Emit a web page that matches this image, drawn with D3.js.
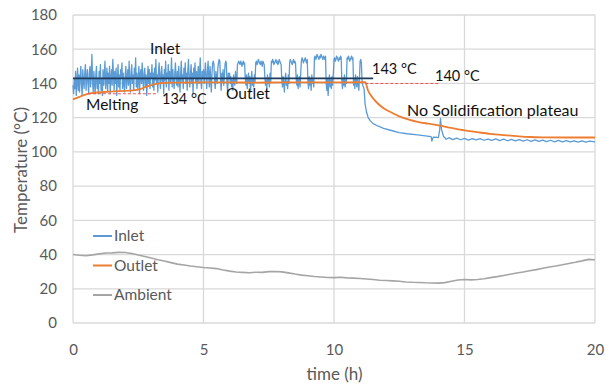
<!DOCTYPE html>
<html>
<head>
<meta charset="utf-8">
<script src="https://cdn.jsdelivr.net/npm/d3@7"></script>
<style>
  html, body { margin: 0; padding: 0; background: #fff; }
  svg { display: block; }
  text { font-family: Lato, "Liberation Sans", sans-serif; }
</style>
</head>
<body>
<svg id="chart" width="606" height="390"></svg>
<script>
// ---- data -------------------------------------------------------------
// Inlet temperature while charging, logged every 0.025 h from t = 0 (one row per hour)
const inletLogStep = 0.025;
const inletCharging = [
  139,134,143,137,147,133,141,149,136,145,135,144,150,139,133,148,142,137,146,151,
  136,143,148,140,134,146,150,138,145,157,141,135,147,140,134,145,150,137,143,134,

  147,140,151,136,143,133,148,139,145,153,137,142,149,135,146,140,150,134,143,148,
  139,154,145,136,147,140,149,133,142,151,138,145,136,148,143,152,137,146,140,135,

  145,150,137,143,148,139,153,142,135,146,151,140,145,136,149,143,155,138,146,137,
  142,150,134,145,148,140,152,143,136,146,149,138,145,133,142,150,140,148,137,146,

  143,151,138,146,136,149,142,154,140,145,135,147,152,143,137,146,150,140,145,134,
  148,142,153,138,146,143,151,136,147,140,145,155,138,148,142,137,146,152,143,139,

  147,138,150,143,135,146,153,141,145,137,149,143,152,140,146,136,148,154,143,138,
  145,151,140,146,134,149,143,152,141,147,137,145,150,140,146,155,141,137,147,143,

  148,140,146,152,143,137,147,153,144,138,150,143,135,146,152,153,151,141,137,147,
  144,140,149,152,154,153,143,136,146,141,148,139,144,151,153,152,140,135,146,143,

  146,140,144,138,142,136,145,141,139,147,143,140,151,152,153,152,151,153,152,150,
  152,153,151,152,143,139,145,137,142,146,140,144,135,141,147,139,143,138,145,141,

  152,153,151,152,154,153,152,151,153,152,150,153,152,151,144,139,142,136,145,140,
  143,138,146,141,153,152,154,153,151,152,153,154,152,153,151,152,154,153,152,151,

  142,138,144,140,135,143,146,139,141,137,145,140,152,154,153,152,151,153,154,152,
  153,152,143,139,145,137,141,144,138,146,153,155,154,152,153,154,155,153,152,154,

  141,137,144,139,143,136,145,140,142,138,155,156,154,155,157,156,155,154,156,155,
  157,156,155,154,156,155,154,156,140,136,143,133,141,145,138,142,137,144,139,146,

  154,155,153,154,156,155,154,153,155,154,156,155,141,137,143,139,145,138,142,140,
  155,154,156,155,153,154,155,156,154,155,139,143,137,145,141,138,144,140,136,142,

  153,154,152,141,139,138,137
];
// Inlet after the heater is switched off: [time (h), °C]
const inletCooling = [
  [11.17,133],[11.19,128],[11.25,123],[11.31,120],[11.4,118],[11.5,116.5],[11.7,115],
  [11.9,113.8],[12.2,112.5],[12.5,111.3],[12.8,110.6],[13.2,109.9],[13.5,109.3],
  [13.72,108.9],[13.75,106.3],[13.8,108.6],[14.0,108.4],[14.05,113],[14.08,119.5],
  [14.12,113],[14.2,109],[14.3,107.4],[14.4,108.3],[14.55,107.2],[14.7,108.0],
  [14.85,107.1],[15.0,107.9],[15.15,106.9],[15.3,107.7],[15.45,107.0],[15.6,107.8],
  [15.75,106.8],[15.9,107.5],[16.05,106.7],[16.2,107.6],[16.35,106.6],[16.5,107.4],
  [16.65,106.5],[16.8,107.3],[16.95,106.4],[17.1,107.2],[17.25,106.3],[17.4,107.1],
  [17.55,106.2],[17.7,107.0],[17.85,106.1],[18.0,106.9],[18.15,106.0],[18.3,106.8],
  [18.45,105.9],[18.6,106.7],[18.75,105.9],[18.9,106.6],[19.05,105.8],[19.2,106.5],
  [19.35,105.7],[19.5,106.4],[19.65,105.7],[19.8,106.3],[20.0,105.8]
];
const outlet = [
  [0,130.7],[0.3,132.5],[0.65,134.2],[1.2,135],[1.8,135.5],[2.3,135.9],[2.6,136.8],
  [2.8,138],[3.0,139],[3.3,140],[3.6,140.4],[4,140.5],[5,140.6],[6,140.6],[7,140.5],
  [8,140.6],[9,140.6],[10,140.6],[11,140.7],[11.2,140.7],[11.3,136],[11.5,131.3],
  [11.7,128],[11.9,125.5],[12.2,123],[12.5,120.8],[12.9,118.7],[13.2,117.6],
  [13.6,116.5],[14.0,115.5],[14.5,114],[15,112.6],[15.5,111.5],[16,110.5],
  [16.5,109.8],[17,109.2],[17.5,108.7],[18,108.5],[19,108.4],[20,108.4]
];
// Ambient temperature, every 0.25 h
const ambientLogStep = 0.25;
const ambient = [
  40.0,39.6,39.3,39.8,40.4,40.9,41.0,41.3,41.2,40.6,39.7,38.9,38.0,37.0,36.2,35.3,
  34.4,33.9,33.3,32.9,32.4,32.1,31.8,31.0,30.3,29.8,29.6,29.4,29.7,29.6,30.0,30.1,
  29.9,29.3,28.6,28.0,27.6,27.2,26.9,26.6,26.5,26.7,26.4,26.2,26.0,25.7,25.4,25.0,
  24.8,24.6,24.4,24.0,23.8,23.7,23.5,23.4,23.3,23.6,24.4,25.1,25.4,25.2,25.4,25.9,
  26.5,27.1,27.8,28.5,29.2,29.8,30.5,31.2,32.0,32.7,33.3,34.0,34.8,35.5,36.3,37.2,37.0
];
// Reference levels marked on the chart
const meltingLevel = { value: 134, from: 0.57, to: 3.26 };
const plateauLevel = { value: 140, from: 11.2, to: 14.05 };
const inletMeanLevel = { value: 143, from: 0, to: 11.5 };

const xTicks = [0, 5, 10, 15, 20];
const yTicks = [0, 20, 40, 60, 80, 100, 120, 140, 160, 180];

const seriesNames = ["Inlet", "Outlet", "Ambient"];
const seriesColors = ["#5B9BD5", "#ED7D31", "#A5A5A5"];

// ---- layout -----------------------------------------------------------
const svg = d3.select("#chart");
const plot = { left: 73, right: 595, top: 15, bottom: 323 };

const x = d3.scaleLinear().domain([0, 20]).range([plot.left, plot.right]);
const y = d3.scaleLinear().domain([0, 180]).range([plot.bottom, plot.top]);

// grid
const grid = svg.append("g").attr("stroke", "#D9D9D9").attr("stroke-width", 1.3);
grid.selectAll("line.h").data(yTicks).join("line")
  .attr("x1", plot.left).attr("x2", plot.right)
  .attr("y1", d => y(d)).attr("y2", d => y(d));
grid.selectAll("line.v").data(xTicks).join("line")
  .attr("y1", plot.top).attr("y2", plot.bottom)
  .attr("x1", d => x(d)).attr("x2", d => x(d));

// axes (labels only, lines come from the grid)
const yAxis = svg.append("g")
  .attr("transform", `translate(${plot.left - 16},0)`)
  .call(d3.axisLeft(y).tickValues(yTicks).tickSize(0).tickPadding(0));
const xAxis = svg.append("g")
  .attr("transform", `translate(0,${plot.bottom + 32})`)
  .call(d3.axisBottom(x).tickValues(xTicks).tickSize(0).tickPadding(0));
[yAxis, xAxis].forEach(a => {
  a.select(".domain").remove();
  a.selectAll("text")
    .attr("fill", "#595959")
    .style("font-size", "15px")
    .style("font-family", "Lato, 'Liberation Sans', sans-serif");
});
xAxis.selectAll("text").attr("y", 0).attr("dy", "0");

svg.append("text")
  .attr("x", (plot.left + plot.right) / 2 + 0.5).attr("y", 380)
  .attr("text-anchor", "middle").attr("fill", "#595959")
  .style("font-size", "17px").text("time (h)");
svg.append("text")
  .attr("transform", `translate(27,170) rotate(-90)`)
  .attr("text-anchor", "middle").attr("fill", "#595959")
  .style("font-size", "17px").text("Temperature (°C)");

// ---- series -----------------------------------------------------------
const line = d3.line().x(d => x(d[0])).y(d => y(d[1]));

const inletPoints = inletCharging.map((v, i) => [i * inletLogStep, v]).concat(inletCooling);
const ambientPoints = ambient.map((v, i) => [i * ambientLogStep, v]);

svg.append("path").datum(ambientPoints)
  .attr("d", line).attr("fill", "none")
  .attr("stroke", seriesColors[2]).attr("stroke-width", 1.6);

svg.append("path").datum(inletPoints)
  .attr("d", line).attr("fill", "none")
  .attr("stroke", seriesColors[0]).attr("stroke-width", 1.3)
  .attr("stroke-linejoin", "round");

svg.append("path").datum(outlet)
  .attr("d", d3.line().curve(d3.curveMonotoneX).x(d => x(d[0])).y(d => y(d[1])))
  .attr("fill", "none")
  .attr("stroke", seriesColors[1]).attr("stroke-width", 1.8);

// reference lines
[meltingLevel, plateauLevel].forEach(r => {
  svg.append("line")
    .attr("x1", x(r.from)).attr("x2", x(r.to))
    .attr("y1", y(r.value)).attr("y2", y(r.value))
    .attr("stroke", "#F25555").attr("stroke-width", 1.1)
    .attr("stroke-dasharray", "3,2");
});
svg.append("line")
  .attr("x1", x(inletMeanLevel.from)).attr("x2", x(inletMeanLevel.to))
  .attr("y1", y(inletMeanLevel.value)).attr("y2", y(inletMeanLevel.value))
  .attr("stroke", "#1F3B5E").attr("stroke-width", 1.8);

// ---- annotations ------------------------------------------------------
const notes = [
  { text: "Inlet", x: 150, y: 54, size: 15.5 },
  { text: "Melting", x: 86, y: 110, size: 15.5 },
  { text: `${meltingLevel.value} °C`, x: 162, y: 104, size: 14.5 },
  { text: "Outlet", x: 226, y: 99, size: 15.5 },
  { text: `${inletMeanLevel.value} °C`, x: 372, y: 74, size: 14.5 },
  { text: `${plateauLevel.value} °C`, x: 435, y: 81, size: 14.5 },
  { text: "No Solidification plateau", x: 407, y: 116, size: 16 }
];
svg.selectAll("text.note").data(notes).join("text")
  .attr("class", "note")
  .attr("x", d => d.x).attr("y", d => d.y)
  .attr("fill", "#111").style("font-size", d => d.size + "px")
  .text(d => d.text);

// ---- legend -----------------------------------------------------------
const legend = svg.append("g").attr("transform", "translate(93,236)");
seriesNames.forEach((name, i) => {
  const g = legend.append("g").attr("transform", `translate(0,${i * 29.5})`);
  g.append("line").attr("x1", 0).attr("x2", 19).attr("y1", 0).attr("y2", 0)
    .attr("stroke", seriesColors[i]).attr("stroke-width", 2);
  g.append("text").attr("x", 21).attr("y", 0).attr("dy", "0.35em")
    .attr("fill", "#595959").style("font-size", "15.5px").text(name);
});
</script>
</body>
</html>
